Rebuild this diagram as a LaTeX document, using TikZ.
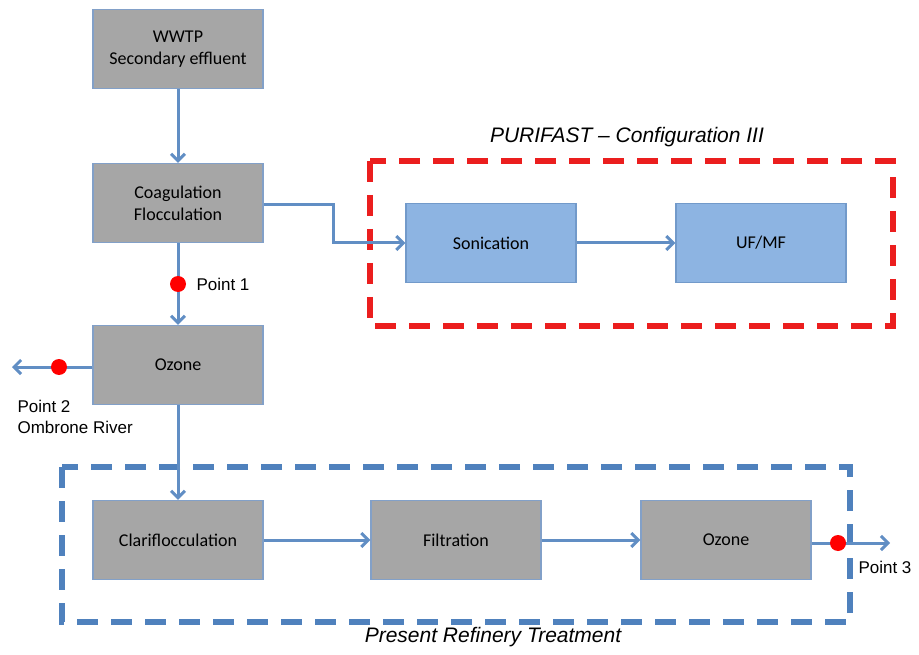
\documentclass[tikz,border=0pt]{standalone}
\usepackage{fontspec}
\setmainfont{Carlito}
\newfontfamily\arialfont{Liberation Sans}
\usetikzlibrary{arrows.meta}
\definecolor{boxgray}{RGB}{166,166,166}
\definecolor{boxedge}{RGB}{130,160,200}
\definecolor{boxblue}{RGB}{141,180,226}
\definecolor{flowblue}{RGB}{79,129,189}
\definecolor{purired}{RGB}{235,30,30}
\begin{document}
\begin{tikzpicture}[x=1pt,y=-1pt,
		graybox/.style={rectangle,draw=boxedge,fill=boxgray,line width=1.2pt,minimum width=170pt,minimum height=79pt,align=center,font=\fontsize{18}{22}\selectfont},
		bluebox/.style={graybox,fill=boxblue,draw=flowblue!80},
		flow/.style={draw=flowblue!90,line width=3pt,-{Straight Barb[length=7pt,width=14pt]}},
		sample/.style={circle,fill=red,inner sep=0pt,minimum size=16pt},
		ptlabel/.style={font=\arialfont\fontsize{17}{21}\selectfont,align=left},
		frame/.style={line width=5.5pt,dash pattern=on 21pt off 13pt},
		title/.style={font=\arialfont\itshape\fontsize{21}{25}\selectfont}
		]
		\useasboundingbox (0,0) rectangle (919,655);

		% main line
		\node[graybox](wwtp) at (178,49){WWTP\\Secondary effluent};
		\node[graybox](coag) at (178,203){Coagulation\\Flocculation};
		\node[graybox](oz1) at (178,365){Ozone};
		\node[graybox](clari) at (178,540){Clariflocculation};
		\node[graybox](filt) at (456,540){Filtration};
		\node[graybox](oz2) at (726,540){Ozone};

		% purifast
		\node[bluebox](soni) at (491,243){Sonication};
		\node[bluebox](ufmf) at (761,243){UF/MF};

		% frames
		\draw[frame,purired] (370,161) rectangle (893,326);
		\draw[frame,flowblue] (62,467) rectangle (850,622);
		\node[title](puriname) at (627,137){PURIFAST \textendash\ Configuration III};
		\node[title](refname) at (493,637){Present Refinery Treatment};

		% connectors
		\coordinate (bend1) at (333,205);
		\coordinate (out2) at (12,367);
		\coordinate (out3) at (890,543);
		\draw[flow] (wwtp) -- (coag);
		\draw[flow] (coag) -- (oz1);
		\draw[flow] (oz1) -- (clari);
		\draw[flow] (coag.east |- bend1) -- (bend1) |- (soni.west);
		\draw[flow] (soni) -- (ufmf);
		\draw[flow] (clari) -- (filt);
		\draw[flow] (filt) -- (oz2);
		\draw[flow] (oz1.west |- out2) -- (out2);
		\draw[flow] (oz2.east |- out3) -- (out3);

		% sampling points
		\node[sample](p1) at (178,284){};
		\node[sample](p2) at (59,367){};
		\node[sample](p3) at (838,543){};
		\node[ptlabel,anchor=west](p1l) at (193,284){Point 1};
		\node[ptlabel,anchor=north west](p2l) at (14,397){Point 2\\Ombrone River};
		\node[ptlabel,anchor=north west](p3l) at (855,558){Point 3};
	\end{tikzpicture}
\end{document}
